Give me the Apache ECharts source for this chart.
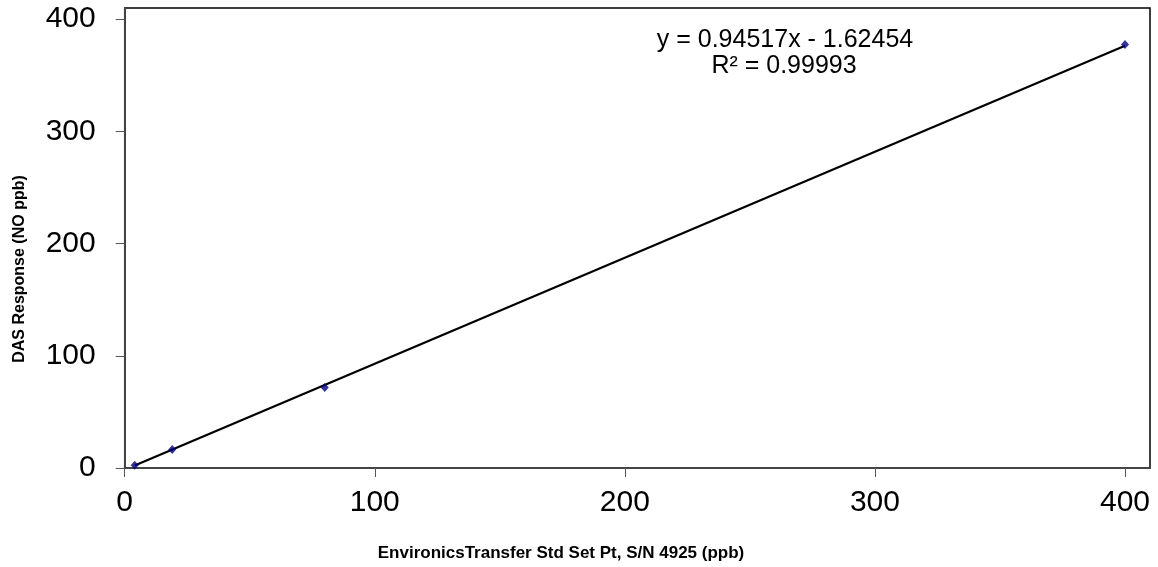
<!DOCTYPE html>
<html>
<head>
<meta charset="utf-8">
<script src="https://cdn.jsdelivr.net/npm/echarts@6/dist/echarts.min.js"></script>
<style>html,body{margin:0;padding:0;background:#fff}#c{width:1158px;height:567px}</style>
</head>
<body>
<div id="c"></div>
<script>
const xValues = [4, 19, 80, 400];
const yValues = [2.5, 16.4, 71.7, 377.5];
const slope = 0.94517;
const intercept = -1.62454;
const rSquared = 0.99993;
const axisTicks = [0, 100, 200, 300, 400];

const points = xValues.map((x, i) => [x, yValues[i]]);
const xMin = Math.min(...xValues), xMax = Math.max(...xValues);
const trend = [[xMin, slope * xMin + intercept], [xMax, slope * xMax + intercept]];

const FONT = 'Liberation Sans, Arial, sans-serif';
const chart = echarts.init(document.getElementById('c'));
function axis(margin) {
  return {
    type: 'value', min: 0, max: 410, interval: 100,
    splitLine: { show: false },
    axisLine: { show: true, lineStyle: { color: '#444', width: 2 } },
    axisTick: { show: true, length: 9, customValues: axisTicks, lineStyle: { color: '#555', width: 1 } },
    axisLabel: { color: '#000', fontSize: 30, fontFamily: FONT, margin: margin, customValues: axisTicks }
  };
}
chart.setOption({
  animation: false,
  backgroundColor: '#fff',
  grid: { left: 124.7, top: 8, right: 8, bottom: 99, show: true, borderColor: '#000', borderWidth: 1.5 },
  xAxis: axis(20),
  yAxis: axis(29),
  series: [
    { type: 'line', data: trend, symbol: 'none', lineStyle: { color: '#000', width: 2.2 }, z: 2 },
    { type: 'scatter', data: points, symbol: 'diamond', symbolSize: [8, 9], itemStyle: { color: '#000080' }, z: 3 }
  ],
  graphic: [
    { type: 'text', x: 561, y: 553, style: { text: 'EnvironicsTransfer Std Set Pt, S/N 4925 (ppb)', fontSize: 17, fontWeight: 'bold', fontFamily: FONT, fill: '#000', align: 'center', verticalAlign: 'middle' } },
    { type: 'text', x: 19.5, y: 269, rotation: Math.PI / 2, style: { text: 'DAS Response (NO ppb)', fontSize: 16, fontWeight: 'bold', fontFamily: FONT, fill: '#000', align: 'center', verticalAlign: 'middle' } },
    { type: 'text', x: 785, y: 40, style: { text: 'y = ' + slope + 'x - ' + Math.abs(intercept), fontSize: 25, fontFamily: FONT, fill: '#000', align: 'center', verticalAlign: 'middle' } },
    { type: 'text', x: 784, y: 66, style: { text: 'R² = ' + rSquared, fontSize: 25, fontFamily: FONT, fill: '#000', align: 'center', verticalAlign: 'middle' } }
  ]
});
</script>
</body>
</html>
